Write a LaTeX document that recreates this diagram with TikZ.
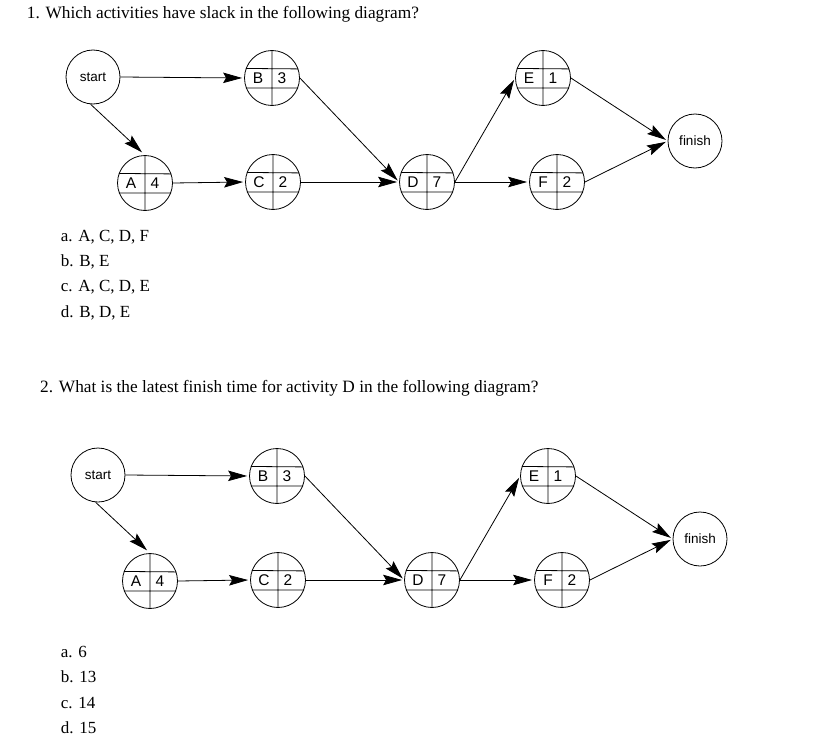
\documentclass[tikz,border=0pt]{standalone}
\usepackage{fontspec}
\setmainfont{Liberation Serif}
\newfontfamily\nodefont{Liberation Sans}
\usetikzlibrary{arrows.meta}

\tikzset{
  evt/.style={circle, draw, line width=0.8pt, minimum size=54pt, inner sep=0pt,
    font=\nodefont\fontsize{13.5}{14}\selectfont},
  act/.style={circle, draw, line width=0.8pt, minimum size=55pt, inner sep=0pt},
  grid/.style={line width=0.8pt},
  lbl/.style={inner sep=0pt, font=\nodefont\fontsize{15.5}{16}\selectfont},
  flow/.style={draw, line width=0.8pt, -{Stealth[length=19pt,width=10.5pt,inset=3pt]}, shorten >=2pt},
  question/.style={anchor=base west, inner sep=0pt, font=\fontsize{17.3}{20}\selectfont},
  answer/.style={anchor=base west, inner sep=0pt, font=\fontsize{17}{20}\selectfont},
}

\newcommand\actnode[4]{%
  \node[act] (#1) at (#2) {};
  \draw[grid] (#1.160.5) -- (#1.19.5) (#1.201.7) -- (#1.-21.7) (#1.north) -- (#1.south);
  \node[lbl, xshift=-14pt] (#1let) at (#1) {#3};
  \node[lbl, xshift=10pt] (#1num) at (#1) {#4};
}

\newcommand\netdiagram[3]{%
  \begin{scope}[shift={(#2,#3)}]
    \node[evt] (#1start) at (93,77) {start};
    \actnode{#1B}{272,78}{B}{3}
    \actnode{#1A}{145,183}{A}{4}
    \actnode{#1C}{273,182}{C}{2}
    \actnode{#1D}{427,182}{D}{7}
    \actnode{#1E}{543,78}{E}{1}
    \actnode{#1F}{557,182}{F}{2}
    \node[evt] (#1finish) at (695,141) {finish};
    \path[flow] (#1start.east) -- (#1B.west);
    \path[flow, shorten >=4pt] (#1start.-95) -- (#1A.north);
    \path[flow] (#1A.east) -- (#1C.west);
    \path[flow] (#1B.east) -- (#1D.west);
    \path[flow] (#1C.east) -- (#1D.west);
    \path[flow] (#1D.east) -- (#1E.west);
    \path[flow] (#1D.east) -- (#1F.west);
    \path[flow] (#1E.east) -- (#1finish.west);
    \path[flow] (#1F.east) -- (#1finish.west);
  \end{scope}
}

\begin{document}
\begin{tikzpicture}[x=1pt, y=-1pt]
  \useasboundingbox (0,0) rectangle (822,752);
  \fill[white] (0,0) rectangle (822,752);

  \node[question] (q1) at (26.7,19) {1. Which activities have slack in the following diagram?};
  \netdiagram{u}{0}{0}
  \node[answer] (q1a) at (60.7,241) {a. A, C, D, F};
  \node[answer] (q1b) at (60.7,266.3) {b. B, E};
  \node[answer] (q1c) at (60.7,291.6) {c. A, C, D, E};
  \node[answer] (q1d) at (60.7,317) {d. B, D, E};

  \node[question] (q2) at (40,392.5) {2. What is the latest finish time for activity D in the following diagram?};
  \netdiagram{l}{5}{398}
  \node[answer] (q2a) at (60.7,657.5) {a. 6};
  \node[answer] (q2b) at (60.7,682.8) {b. 13};
  \node[answer] (q2c) at (60.7,708) {c. 14};
  \node[answer] (q2d) at (60.7,733.3) {d. 15};
\end{tikzpicture}
\end{document}
